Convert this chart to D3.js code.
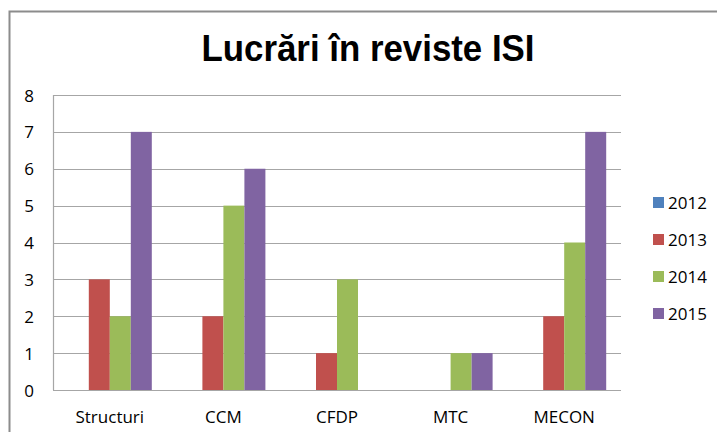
<!DOCTYPE html>
<html>
<head>
<meta charset="utf-8">
<script src="https://cdn.jsdelivr.net/npm/d3@7"></script>
<style>
  body { margin: 0; background: #fff; }
  text { font-family: "Open Sans", "Noto Sans", sans-serif; }
</style>
</head>
<body>
<div id="chart"></div>
<script>
const categories = ["Structuri", "CCM", "CFDP", "MTC", "MECON"];
const years = ["2012", "2013", "2014", "2015"];
const v2012 = [0, 0, 0, 0, 0];
const v2013 = [3, 2, 1, 0, 2];
const v2014 = [2, 5, 3, 1, 4];
const v2015 = [7, 6, 0, 1, 7];
const colors = ["#4f81bd", "#c0504d", "#9bbb59", "#8064a2"];
const yTicks = [0, 1, 2, 3, 4, 5, 6, 7, 8];

const series = [v2012, v2013, v2014, v2015];

const svg = d3.select("#chart").append("svg")
  .attr("width", 717)
  .attr("height", 432);

// outer chart border (cut off at right/bottom)
svg.append("rect")
  .attr("x", 9.5).attr("y", 11.5)
  .attr("width", 720).attr("height", 430)
  .attr("fill", "none")
  .attr("stroke", "#8c8c8c")
  .attr("stroke-width", 2);

const plotL = 53, plotR = 621, plotT = 95, plotB = 390;

const x = d3.scaleBand().domain(categories).range([plotL, plotR]).paddingInner(0).paddingOuter(0);
const y = d3.scaleLinear().domain([0, 8]).range([plotB, plotT]);
const groupW = 84;
const x1 = d3.scaleBand().domain(years).range([0, groupW]);

// gridlines
svg.append("g")
  .selectAll("line")
  .data(yTicks)
  .join("line")
  .attr("x1", plotL).attr("x2", plotR)
  .attr("y1", d => Math.round(y(d)) + 0.5)
  .attr("y2", d => Math.round(y(d)) + 0.5)
  .attr("stroke", "#a6a6a6")
  .attr("stroke-width", 1.2);

// left axis line
svg.append("line")
  .attr("x1", plotL + 0.5).attr("x2", plotL + 0.5)
  .attr("y1", plotT).attr("y2", plotB)
  .attr("stroke", "#a6a6a6")
  .attr("stroke-width", 1.2);

// y tick labels
svg.append("g")
  .selectAll("text")
  .data(yTicks)
  .join("text")
  .attr("x", 34)
  .attr("y", d => y(d) + 6.5)
  .attr("text-anchor", "end")
  .attr("font-size", 17)
  .attr("fill", "#000")
  .text(d => d);

// bars
series.forEach((vals, i) => {
  svg.append("g")
    .selectAll("rect")
    .data(vals)
    .join("rect")
    .attr("x", (d, j) => x(categories[j]) + (x.bandwidth() - groupW) / 2 + x1(years[i]))
    .attr("width", x1.bandwidth())
    .attr("y", d => y(d))
    .attr("height", d => y(0) - y(d))
    .attr("fill", colors[i]);
});

// category labels
svg.append("g")
  .selectAll("text")
  .data(categories)
  .join("text")
  .attr("x", d => x(d) + x.bandwidth() / 2)
  .attr("y", 423)
  .attr("text-anchor", "middle")
  .attr("font-size", 17)
  .attr("fill", "#000")
  .text(d => d);

// title
svg.append("text")
  .attr("x", 368)
  .attr("y", 61)
  .attr("text-anchor", "middle")
  .attr("font-size", 36)
  .attr("font-weight", "bold")
  .attr("textLength", 333)
  .attr("lengthAdjust", "spacingAndGlyphs")
  .style("font-family", "'Liberation Sans', Arial, sans-serif")
  .text("Lucrări în reviste ISI");

// legend
const legend = svg.append("g")
  .selectAll("g")
  .data(years)
  .join("g")
  .attr("transform", (d, i) => "translate(653," + (197 + i * 37) + ")");

legend.append("rect")
  .attr("width", 11).attr("height", 11)
  .attr("fill", (d, i) => colors[i]);

legend.append("text")
  .attr("x", 15)
  .attr("y", 11.5)
  .attr("font-size", 17)
  .attr("fill", "#000")
  .text(d => d);
</script>
</body>
</html>
